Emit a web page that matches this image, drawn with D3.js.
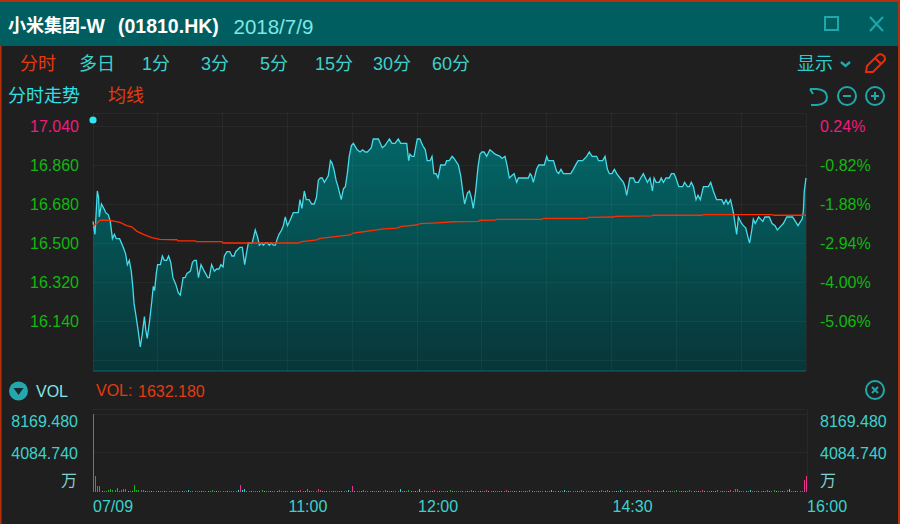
<!DOCTYPE html>
<html><head><meta charset="utf-8">
<script src="https://cdn.jsdelivr.net/npm/d3@7"></script>
<style>
html,body{margin:0;padding:0;background:#1f1f1f;overflow:hidden}
svg{display:block}
text{font-family:"Liberation Sans","Noto Sans CJK SC",sans-serif}
</style></head><body>
<svg id="c" width="900" height="524"></svg>
<script>
const titleParts=["小米集团","-W","(01810.HK)"], dateLabel="2018/7/9";
const tabs=["分时","多日","1分","3分","5分","15分","30分","60分"];
const priceTicks=[17.04,16.86,16.68,16.5,16.32,16.14];
const pctLabels=["0.24%","-0.82%","-1.88%","-2.94%","-4.00%","-5.06%"];
const timeTicks=[[0,"07/09"],[90,"11:00"],[150,"12:00"],[240,"14:30"],[330,"16:00"]];
const gridMinutes=[0,30,60,90,120,150,180,210,240,270,300,330];
const volTicks=[8169.48,4084.74];
const lastVol=1632.18;
const priceMinutes=[0,0.9,1.2,2,2.6,2.9,3.9,5,5.9,7.1,8,9,9.9,10.8,12.3,14,15.1,15.9,16.8,17.7,18.4,19,19.8,20.7,21.9,22.8,23.8,24.4,25.1,26.2,27.2,27.9,28.5,29.3,29.9,31.2,32.1,33,34.1,35,36,37,38.3,39.5,40.4,41.7,42.6,43.5,45.1,46,46.9,47.8,48.8,50,51.5,53.1,53.8,54.9,56.2,57.2,58.3,59.2,60.2,60.8,62,63.3,64.3,65.3,66,67,68,69.1,70.2,71,71.9,73.7,75.1,76.1,77,78.1,78.8,79.8,80.7,81.6,82.5,83.5,84.4,85.3,86.1,87.3,88.1,89,90,91,92.7,95,95.8,96.7,97.8,98.7,100,101.2,102.4,103.4,104.3,105.2,106.1,107.1,108.9,109.9,110.6,111.5,112.5,113.4,114.9,115.9,116.8,117.7,118.6,119.6,120.5,121.4,122.3,123.6,124.8,126,127,127.9,128.8,129.7,132.1,133.9,135.1,137.2,138.4,139.8,141.3,142.4,145.2,146.1,146.7,147.6,148.6,149.5,150.1,151.3,152.6,153.8,154.7,156,156.9,157.8,158.8,159.7,160.9,162.9,163.7,164.9,166.2,167.1,169.1,170.2,171.1,172,173.3,174.2,175.1,176,177,178.2,179.1,180,181,182.2,183.7,185,186.1,188.4,189.3,190.7,191.8,192.7,193.8,194.9,196.1,196.9,201.5,202.3,203,203.8,205.3,206.3,208.9,210,210.7,213.1,214.6,215.5,216.6,217.7,221.1,222.3,223.9,224.6,226.6,228.5,229.7,231,233.1,234,235.9,237,238.1,239,240.2,241.3,242.4,243.9,245.5,246.2,247,248.5,250.1,251,252.4,253.5,254.7,256.6,257.8,258.9,259.7,260.6,262.1,263,264,265.2,266.7,267.7,268.9,269.8,271.1,272.9,273.8,275.1,276,276.9,277.9,279.1,280,281.1,282.5,284.8,285.9,287.1,288.6,291,292,293,293.9,295.1,296.4,297.3,297.9,298.7,300.2,301,302.1,303.3,303.9,304.9,305.6,306.5,308.1,309,310,311,313,314.3,315.7,316.7,318.6,319.5,321.1,323.8,325.1,326.3,327.5,328.2,328.8,329.2,330];
const prices=[16.6,16.54,16.59,16.74,16.71,16.62,16.68,16.66,16.64,16.63,16.6,16.52,16.54,16.52,16.52,16.48,16.45,16.4,16.42,16.37,16.3,16.22,16.17,16.11,16.02,16.08,16.16,16.1,16.06,16.14,16.23,16.3,16.28,16.36,16.4,16.4,16.44,16.42,16.42,16.44,16.41,16.34,16.31,16.27,16.26,16.34,16.34,16.36,16.37,16.41,16.42,16.42,16.34,16.4,16.37,16.34,16.34,16.4,16.37,16.38,16.38,16.4,16.39,16.44,16.46,16.46,16.44,16.44,16.46,16.47,16.48,16.48,16.4,16.45,16.5,16.5,16.56,16.53,16.49,16.5,16.49,16.5,16.5,16.49,16.5,16.49,16.49,16.52,16.54,16.56,16.58,16.62,16.58,16.6,16.64,16.64,16.7,16.66,16.74,16.7,16.7,16.68,16.68,16.71,16.79,16.8,16.8,16.78,16.81,16.88,16.87,16.84,16.79,16.76,16.7,16.75,16.76,16.82,16.9,16.95,16.96,16.945,16.93,16.92,16.93,16.92,16.92,16.93,16.94,16.98,16.98,16.94,16.95,16.98,16.96,16.96,16.98,16.96,16.96,16.88,16.91,16.9,16.9,16.95,16.98,16.98,16.95,16.93,16.88,16.88,16.9,16.82,16.82,16.8,16.86,16.86,16.88,16.88,16.9,16.89,16.86,16.81,16.74,16.68,16.73,16.74,16.71,16.66,16.73,16.85,16.91,16.92,16.92,16.9,16.93,16.92,16.91,16.9,16.89,16.9,16.85,16.8,16.81,16.82,16.78,16.8,16.8,16.82,16.81,16.78,16.84,16.86,16.86,16.9,16.88,16.88,16.83,16.82,16.84,16.82,16.82,16.84,16.87,16.88,16.88,16.9,16.92,16.9,16.9,16.88,16.88,16.9,16.84,16.82,16.82,16.84,16.82,16.8,16.78,16.76,16.72,16.8,16.8,16.78,16.78,16.8,16.82,16.78,16.8,16.74,16.8,16.78,16.78,16.8,16.78,16.8,16.8,16.82,16.82,16.8,16.76,16.76,16.78,16.76,16.76,16.78,16.76,16.7,16.72,16.7,16.76,16.76,16.78,16.74,16.7,16.7,16.68,16.7,16.68,16.7,16.64,16.58,16.54,16.62,16.59,16.58,16.57,16.52,16.5,16.56,16.61,16.59,16.62,16.61,16.6,16.62,16.62,16.59,16.58,16.56,16.58,16.59,16.62,16.62,16.6,16.58,16.6,16.61,16.65,16.74,16.8];
const avgMinutes=[0,1.7,3.2,7.4,10.2,12.5,15.6,17.9,20.2,23.3,27.2,31,38.7,39.5,47.2,48,59.6,60.3,95,96.6,103.5,105.1,112,119,120.5,125.1,129.7,134.4,140.6,142.9,149.8,151.3,157.5,166.8,178.3,179.1,186.1,186.8,207.7,208.4,228.5,229.3,240.8,241.6,258.6,259.3,281.7,282.5,314.1,315.2,330];
const avgPrices=[16.58,16.59,16.605,16.605,16.6,16.595,16.58,16.575,16.555,16.54,16.525,16.517,16.515,16.51,16.51,16.506,16.506,16.5,16.5,16.506,16.514,16.521,16.529,16.537,16.546,16.552,16.558,16.565,16.569,16.577,16.583,16.589,16.592,16.598,16.6,16.605,16.606,16.609,16.609,16.614,16.614,16.618,16.62,16.623,16.625,16.628,16.628,16.631,16.631,16.628,16.628];
const volumes=[
8169,1660,530,530,90,70,100,200,290,210,
200,320,90,180,260,230,90,100,90,640,
210,190,180,210,90,80,70,90,100,80,
90,70,80,90,100,80,70,60,90,70,
100,90,80,70,110,90,70,80,100,90,
80,70,90,100,80,110,90,70,80,90,
100,70,90,80,100,90,70,110,720,120,
280,90,80,100,70,90,80,100,110,70,
90,80,70,100,90,80,110,70,90,100,
80,90,70,80,100,90,110,80,70,260,
90,80,100,70,260,210,90,80,70,100,
90,80,70,90,100,80,90,70,110,90,
530,100,90,80,70,110,90,80,100,70,
90,80,100,70,90,110,80,90,70,100,
80,90,220,90,80,70,210,90,100,80,
70,300,90,80,100,70,90,80,110,90,
70,100,80,90,70,110,90,80,100,70,
90,100,80,70,90,110,80,90,100,70,
80,90,110,70,100,80,90,70,100,90,
80,110,70,90,100,80,90,70,100,80,
90,70,110,80,90,100,70,90,80,100,
70,90,110,80,70,100,90,80,110,70,
90,80,100,70,90,80,110,100,70,90,
80,100,70,90,80,110,90,70,210,90,
80,100,70,90,110,80,90,70,100,80,
90,110,70,80,100,90,70,110,90,80,
100,70,90,80,110,70,100,90,80,70,
110,90,80,100,70,90,110,80,70,100,
90,80,110,70,90,100,80,70,90,110,
80,100,90,70,80,110,90,280,290,90,
70,100,80,90,110,70,90,80,100,70,
90,80,110,90,70,210,90,80,100,70,
90,110,300,80,90,70,100,90,70,1250,
1632];
const volDirs=[
"ududfudddd","duddddfdfd","dddufdufdu","fdufudfudu","ufdufduddu","fdufudufdu","dufdudufuf",
"fdufudufdf","udfudfuduf","dufudfudfd","fuduuufdfu","dfudufdufu","ufdufduudf","udfudufdfu",
"dufufudfuf","ufdufudfud","fudufdfudu","dfufudfudf","udufdfuduf","dufudfufdu","fdufudfuuf",
"dufdufudfu","fudufdufud","ufdufdufdf","udfufdufud","fudfuduufd","ufdufudfdu","dufufdudfu",
"fdufudfufd","ufdufudddf","udfufdudfu","fudfudfudf","dufudfuduu","u"].join("");
const volColor={u:"#e8358a",d:"#14b814",f:"#22d6d6"};

const svg=d3.select("#c");
const bg=svg.append("g");
const CY="#3cd2cc",RED="#e43a10",PINK="#ee1c7c",GREEN="#10b810";
const W=900,H=524,L=93,R=806,PT=113,PB=371;

bg.append("rect").attr("width",W).attr("height",H).attr("fill","#1f1f1f");
bg.append("rect").attr("width",W).attr("y",2).attr("height",44).attr("fill","#005e60");
bg.append("rect").attr("width",W).attr("height",2).attr("fill","#b6300c");
bg.append("rect").attr("x",0).attr("y",46).attr("width",1.5).attr("height",H-46).attr("fill","#b6300c");
bg.append("rect").attr("x",898).attr("y",0).attr("width",2).attr("height",H).attr("fill","#b6300c");

const x=d3.scaleLinear().domain([0,330]).range([L,R]);
const y=d3.scaleLinear().domain([17.04,16.14]).range([126,321]);
const yv=d3.scaleLinear().domain([0,8169.48]).range([491.5,414]);

const defs=svg.append("defs");
const gr=defs.append("linearGradient").attr("id","ag").attr("gradientUnits","userSpaceOnUse")
  .attr("x1",0).attr("x2",0).attr("y1",140).attr("y2",PB);
gr.append("stop").attr("offset",0).attr("stop-color","#036566");
gr.append("stop").attr("offset",1).attr("stop-color","#083638");

const pts=priceMinutes.map((m,i)=>[m,prices[i]]);
svg.append("path").datum(pts).attr("fill","url(#ag)")
  .attr("d",d3.area().x(d=>x(d[0])).y0(PB).y1(d=>y(d[1])));

// grid
const grid=svg.append("g").attr("shape-rendering","crispEdges").attr("stroke","#ffffff").attr("stroke-opacity",0.045);
gridMinutes.forEach(m=>grid.append("line").attr("x1",x(m)).attr("x2",x(m)).attr("y1",PT).attr("y2",PB));
grid.append("line").attr("x1",L).attr("x2",R).attr("y1",PT).attr("y2",PT);
priceTicks.concat([15.96]).forEach(p=>grid.append("line").attr("x1",L).attr("x2",R).attr("y1",y(p)).attr("y2",y(p)));
grid.append("line").attr("x1",L).attr("x2",R).attr("y1",409).attr("y2",409);
grid.append("line").attr("x1",L).attr("x2",R+1).attr("y1",yv(8169.48)).attr("y2",yv(8169.48));
grid.append("line").attr("x1",L).attr("x2",R+1).attr("y1",yv(4084.74)).attr("y2",yv(4084.74));
grid.append("line").attr("x1",R+1).attr("x2",R+1).attr("y1",409).attr("y2",491);

// lines
svg.append("path").datum(pts).attr("fill","none").attr("stroke","#45dcec").attr("stroke-width",1.3)
  .attr("d",d3.line().x(d=>x(d[0])).y(d=>y(d[1])));
svg.append("path").datum(avgMinutes.map((m,i)=>[m,avgPrices[i]])).attr("fill","none").attr("stroke","#ff2c00").attr("stroke-width",1.3)
  .attr("d",d3.line().x(d=>x(d[0])).y(d=>y(d[1])));
svg.append("path").attr("fill","none").attr("stroke","#0a6a70").attr("d",`M${L} ${PB}H${R}`);

// start marker
svg.append("circle").attr("cx",L).attr("cy",120).attr("r",3.6).attr("fill","#2ee6f4");

// axes
const ax=svg.append("g").attr("transform",`translate(79,0)`)
  .call(d3.axisLeft(y).tickValues(priceTicks).tickSize(0).tickPadding(0).tickFormat(d3.format(".3f")));
ax.select(".domain").remove();
ax.selectAll("text").attr("font-size",16).attr("font-family",'"Liberation Sans"').attr("fill",(d,i)=>i==0?PINK:GREEN);
const axr=svg.append("g").attr("transform",`translate(820,0)`)
  .call(d3.axisRight(y).tickValues(priceTicks).tickSize(0).tickPadding(0).tickFormat((d,i)=>pctLabels[i]));
axr.select(".domain").remove();
axr.selectAll("text").attr("font-size",16).attr("font-family",'"Liberation Sans"').attr("fill",(d,i)=>i==0?PINK:GREEN);

// volume bars
svg.append("g").attr("shape-rendering","crispEdges").selectAll("rect").data(volumes).join("rect")
  .attr("x",(d,i)=>Math.round(x(i)))
  .attr("width",1)
  .attr("y",d=>yv(d))
  .attr("height",d=>yv(0)-yv(d))
  .attr("fill",(d,i)=>volColor[volDirs[i]||"f"]);

function T(s,tx,ty,size,fill,anchor,weight,family){
  const t=svg.append("text").text(s).attr("x",tx).attr("y",ty).attr("font-size",size).attr("fill",fill)
   .attr("dominant-baseline","central").attr("text-anchor",anchor||"start");
  if(weight)t.attr("font-weight",weight);
  if(family)t.style("font-family",family);
  return t;
}
// header
T(titleParts[0],8,26,18,"#ffffff","start","bold");
T(titleParts[1],80,26,19.5,"#ffffff","start","bold");
T(titleParts[2],118,26,19.5,"#ffffff","start","bold");
T(dateLabel,233.5,26,20.5,"#7fe6e6");
// tabs
const tabX=[20,79,142,201,260,315,373,432];
tabs.forEach((s,i)=>T(s,tabX[i],64,18,i==0?RED:CY));
T("分时走势",8,96,18,"#2ee0ea");
T("均线",108,96,18,RED);
T("显示",797,64,18,"#2ec8d0");
// volume labels
T("VOL",36,391,16,"#7fe8e6");
T("VOL:",96,390,16,RED);
T(d3.format(".3f")(lastVol),138,391.5,16,RED);
volTicks.forEach((v,i)=>{
  const ty=i==0?421:yv(v)+0.5;
  T(d3.format(".3f")(v),78,ty,16,CY,"end");
  T(d3.format(".3f")(v),820,ty,16,CY);
});
T("万",77,480,16,"#7fd0d0","end");
T("万",820,480,16,"#7fd0d0");
timeTicks.forEach(([m,s])=>T(s,x(m)+(m?1:0),506,16,CY));

// icons
const ic="#1ea8ac";
const icons=svg.append("g").attr("fill","none").attr("stroke",ic).attr("stroke-width",2);
icons.append("rect").attr("x",825).attr("y",17).attr("width",13).attr("height",13);
icons.append("path").attr("d","M870 17L883 31M883 17L870 31");
icons.append("path").attr("stroke-width",2.4).attr("d","M841 62L845.5 66L850 62");
svg.append("path").attr("fill","none").attr("stroke","#f02a08").attr("stroke-width",2)
  .attr("d","M866 72L867 66L878 55Q881 53 884 56Q886 59 884 61L873 72ZM875 58L881 64");
icons.append("path").attr("d","M810 89L817 89Q827 90 827 97Q827 104 817 105L811 105M810 89L813 94");
[[847,96],[875,96]].forEach(([cx,cy],i)=>{
  icons.append("circle").attr("cx",cx).attr("cy",cy).attr("r",9);
  icons.append("path").attr("d",i?`M${cx-4} ${cy}H${cx+4}M${cx} ${cy-4}V${cy+4}`:`M${cx-4} ${cy}H${cx+4}`);
});
svg.append("circle").attr("cx",18.5).attr("cy",391).attr("r",9.5).attr("fill","#22a8ae");
svg.append("path").attr("d","M13.5 388H23.5L18.5 395Z").attr("fill","#1a2a2c");
icons.append("circle").attr("cx",875).attr("cy",390).attr("r",9);
icons.append("path").attr("d","M872 387L878 393M878 387L872 393");
</script>
</body></html>
